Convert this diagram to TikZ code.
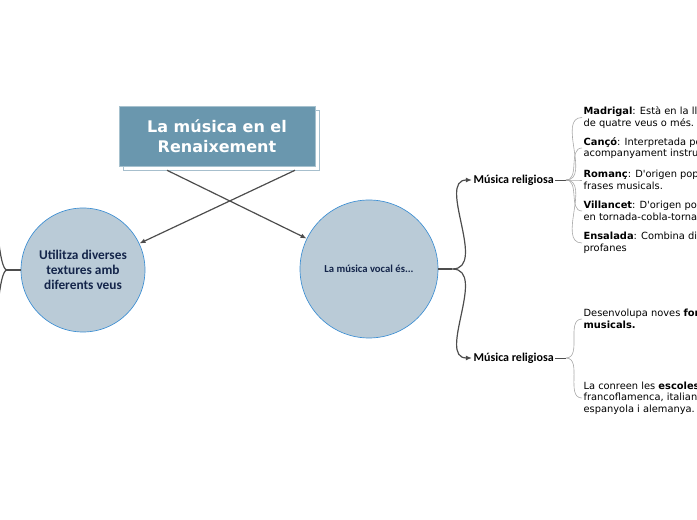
\documentclass[tikz,border=0pt]{standalone}
\usepackage{fontspec}
\setmainfont{DejaVu Sans}
\newfontfamily\carlito{Carlito}
\usetikzlibrary{arrows.meta,positioning}

\definecolor{titlefill}{HTML}{6A97AE}
\definecolor{shadowline}{HTML}{A7BFCD}
\definecolor{bubblefill}{HTML}{BACBD7}
\definecolor{bubbleline}{HTML}{3D8FD3}
\definecolor{bubbletext}{HTML}{14254A}
\definecolor{linkgray}{HTML}{4D4D4D}
\definecolor{leafgray}{HTML}{A8A8A8}

\begin{document}
\begin{tikzpicture}[
  x=0.75pt, y=-0.75pt,
  titlebox/.style={rectangle, minimum width=147pt, minimum height=45pt,
                   inner sep=0pt, align=center},
  bubble/.style={circle, draw=bubbleline, line width=0.5pt, fill=bubblefill,
                 inner sep=0pt, align=center, text=bubbletext},
  arrow/.style={-{Latex[length=1.6mm, width=1.3mm]}, draw=linkgray, line width=0.9pt},
  link/.style={draw=linkgray, line width=0.9pt},
  twig/.style={draw=leafgray, line width=0.45pt},
  rel/.style={anchor=west, inner sep=1pt, font=\carlito\bfseries\fontsize{9}{10}\selectfont},
  leaf/.style={anchor=west, align=left, inner sep=1pt, font=\fontsize{7.4}{8.6}\selectfont}
]
\useasboundingbox (0,0) rectangle (697,520);
\clip (0,0) rectangle (697,520);

% title with its shadow
\node[titlebox, fill=white, draw=shadowline] (titleshadow) at (221,140) {};
\node[titlebox, fill=titlefill, draw=titlefill!60!white, text=white,
      font=\bfseries\fontsize{12}{15}\selectfont] (title) at (217,136)
  {La música en el\\Renaixement};

% the two bubbles
\node[bubble, minimum size=93pt, font=\carlito\bfseries\fontsize{10}{11.25}\selectfont]
  (textures) at (83,270) {Utilitza diverses\\textures amb\\diferents veus};
\node[bubble, minimum size=103.5pt, font=\carlito\bfseries\fontsize{8}{9}\selectfont]
  (vocal) at (369,269) {La música vocal és...};

\draw[arrow] ([xshift=-40.5pt]titleshadow.south) -- (vocal);
\draw[arrow] ([xshift=55.5pt]titleshadow.south) -- (textures);

% branches leaving the page on the left
\coordinate (tb) at (7,270);
\coordinate (tup) at (-4,200);
\coordinate (tdown) at (-4,340);
\draw[link] (textures.west) -- (tb);
\draw[link] (tb) to[out=180,in=-90,looseness=0.3] (tup);
\draw[link] (tb) to[out=180,in=90,looseness=0.3] (tdown);

% right side
\coordinate[right=10.5pt of vocal.east] (vb);
\node[rel] (rel1) at (472,180) {Música religiosa};
\node[rel] (rel2) at (472,358) {Música religiosa};
\draw[link] (vocal.east) -- (vb);
\draw[arrow] (vb) to[out=0,in=180] (rel1.west);
\draw[arrow] (vb) to[out=0,in=180] (rel2.west);

\node[leaf] (madrigal) at (582,117.5) {\textbf{Madrigal}: Està en la llengua\\de quatre veus o més.};
\node[leaf] (canco) at (582,148) {\textbf{Cançó}: Interpretada per\\acompanyament instrumental};
\node[leaf] (romanc) at (582,180) {\textbf{Romanç}: D\textquotesingle origen popular\\frases musicals.};
\node[leaf] (villancet) at (582,211) {\textbf{Villancet}: D\textquotesingle origen popular\\en tornada-cobla-tornada};
\node[leaf] (ensalada) at (582,243) {\textbf{Ensalada}: Combina diferents\\profanes};

\node[leaf] (formes) at (582,319) {Desenvolupa noves \textbf{formes}\\\textbf{musicals.}};
\node[leaf] (escoles) at (582,398) {La conreen les \textbf{escoles}\\francoflamenca, italiana,\\espanyola i alemanya.};

\coordinate[right=8pt of rel1.east] (b1);
\coordinate[right=8pt of rel2.east] (b2);
\draw[linkgray, line width=0.45pt] (rel1.east) -- (b1);
\draw[linkgray, line width=0.45pt] (rel2.east) -- (b2);
\foreach \leafname in {madrigal,canco,romanc,villancet,ensalada}
  \draw[twig] (b1) to[out=0,in=180] (\leafname.west);
\foreach \leafname in {formes,escoles}
  \draw[twig] (b2) to[out=0,in=180] (\leafname.west);
\end{tikzpicture}
\end{document}
